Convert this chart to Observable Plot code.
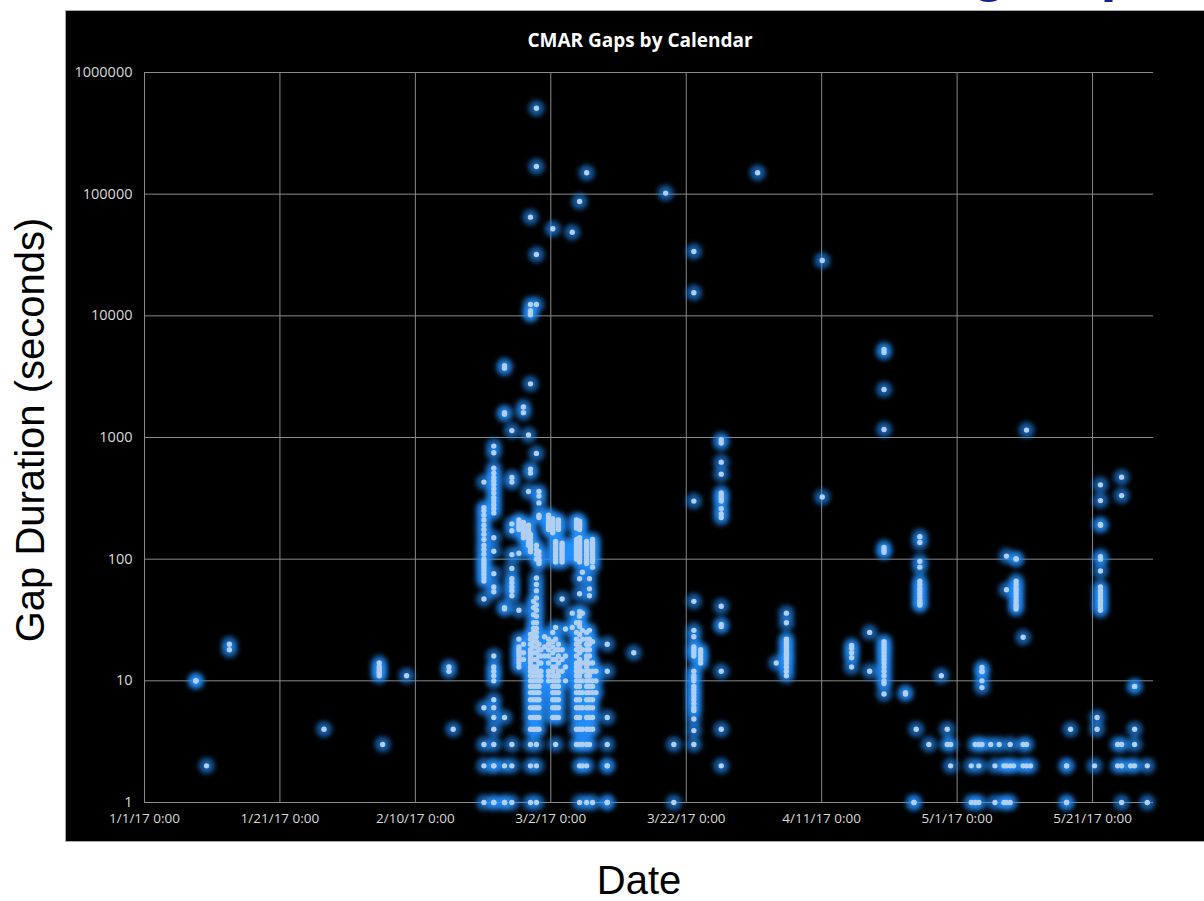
<!DOCTYPE html>
<html>
<head>
<meta charset="utf-8">
<script src="https://cdn.jsdelivr.net/npm/d3@7"></script>
<script src="https://cdn.jsdelivr.net/npm/@observablehq/plot@0.6"></script>
<style>
  html, body { margin: 0; padding: 0; background: #fff; width: 1204px; height: 901px; overflow: hidden; position: relative; }
  #slideTitle { position: absolute; left: 0; top: 0; width: 1204px; height: 5px; overflow: hidden; }
  #slideTitle span { position: absolute; left: 818px; top: -59px; font: bold 58px "Liberation Sans", Arial, sans-serif; line-height: 58px; color: #12208a; white-space: nowrap; }
  #panel { position: absolute; left: 65px; top: 10px; width: 1160px; height: 832px; background: #000; border: 1px solid #a8a8a8; box-sizing: border-box; }
  #chart { position: absolute; left: 65px; top: 10px; }
  #title { position: absolute; left: 65px; width: 1150px; top: 27px; text-align: center; color: #fff; font: bold 19px "Open Sans", sans-serif; }
  #ylabel { position: absolute; left: 30px; top: 430px; transform: translate(-50%, -50%) rotate(-90deg); font: 40px "Liberation Sans", Arial, sans-serif; color: #000; white-space: nowrap; }
  #xlabel { position: absolute; left: 639px; top: 880px; transform: translate(-50%, -50%); font: 40px "Liberation Sans", Arial, sans-serif; color: #000; white-space: nowrap; }
</style>
</head>
<body>
<div id="slideTitle"><span>Timing Gaps</span></div>
<div id="panel"></div>
<div id="chart"></div>
<div id="title">CMAR Gaps by Calendar</div>
<div id="ylabel">Gap Duration (seconds)</div>
<div id="xlabel">Date</div>
<script>
// ---- data ----
const xStart = "2017-01-01 00:00";
const xEnd = "2017-05-30 00:00";
const dateTicks = ["2017-01-01 00:00", "2017-01-21 00:00", "2017-02-10 00:00", "2017-03-02 00:00",
                   "2017-03-22 00:00", "2017-04-11 00:00", "2017-05-01 00:00", "2017-05-21 00:00"];
const gapTicks = [1, 10, 100, 1000, 10000, 100000, 1000000];

// time stamp of each vertical group of gaps
const columnTimes = [
  "2017-01-08 14:00", "2017-01-10 04:00", "2017-01-13 13:00", "2017-01-27 12:00", "2017-02-04 16:00",
  "2017-02-05 04:00", "2017-02-08 17:00", "2017-02-14 23:00", "2017-02-15 14:00", "2017-02-20 03:00",
  "2017-02-21 14:00", "2017-02-23 04:00", "2017-02-24 06:00", "2017-02-25 07:00", "2017-02-25 23:00",
  "2017-02-26 17:00", "2017-02-27 00:00", "2017-02-27 11:00", "2017-02-27 21:00", "2017-02-28 06:00",
  "2017-02-28 13:00", "2017-03-01 02:00", "2017-03-01 16:00", "2017-03-02 07:00", "2017-03-02 17:00",
  "2017-03-03 03:00", "2017-03-03 16:00", "2017-03-04 04:00", "2017-03-05 04:00", "2017-03-05 19:00",
  "2017-03-06 06:00", "2017-03-06 16:00", "2017-03-07 07:00", "2017-03-07 17:00", "2017-03-08 04:00",
  "2017-03-08 16:00", "2017-03-10 08:00", "2017-03-14 06:00", "2017-03-18 23:00", "2017-03-20 04:00",
  "2017-03-23 03:00", "2017-03-24 03:00", "2017-03-27 04:00", "2017-04-01 13:00", "2017-04-04 07:00",
  "2017-04-05 19:00", "2017-04-11 02:00", "2017-04-15 10:00", "2017-04-18 02:00", "2017-04-20 05:00",
  "2017-04-23 09:00", "2017-04-24 15:00", "2017-04-24 23:00", "2017-04-25 12:00", "2017-04-26 20:00",
  "2017-04-28 16:00", "2017-04-29 13:00", "2017-04-30 01:00", "2017-05-03 02:00", "2017-05-03 16:00",
  "2017-05-04 05:00", "2017-05-04 16:00", "2017-05-05 23:00", "2017-05-06 14:00", "2017-05-07 05:00",
  "2017-05-07 22:00", "2017-05-08 07:00", "2017-05-08 20:00", "2017-05-09 08:00", "2017-05-09 17:00",
  "2017-05-10 18:00", "2017-05-11 06:00", "2017-05-11 20:00", "2017-05-17 04:00", "2017-05-17 18:00",
  "2017-05-21 07:00", "2017-05-21 16:00", "2017-05-22 04:00", "2017-05-24 17:00", "2017-05-25 07:00",
  "2017-05-26 15:00", "2017-05-27 05:00", "2017-05-29 02:00"
];

// gap durations (seconds) observed at each time stamp above, same order
const columnGaps = [
  [10, 10, 10],
  [2],
  [20, 18],
  [4],
  [14, 13, 12.5, 12, 11.5, 11],
  [3],
  [11],
  [13, 12],
  [4],
  [430, 265, 250, 230, 210, 190, 175, 160, 145, 130, 120, 110, 100, 95, 90, 85, 80, 75, 70, 66, 47, 6, 3, 2, 1],
  [850, 750, 560, 510, 470, 440, 410, 380, 350, 320, 300, 280, 260, 240, 150, 116, 76, 59, 54, 16, 13, 12, 11, 10, 7, 6, 5, 4, 3, 2, 2, 1, 1],
  [3900, 3700, 1600, 1550, 40, 39, 5, 2, 1, 1],
  [1140, 470, 430, 195, 171, 109, 84, 69, 64, 59, 55, 50, 3, 2, 1],
  [210, 200, 190, 182, 175, 112, 38, 22, 19, 18, 17, 16, 15, 14, 13],
  [1780, 1600, 200, 190, 180, 172, 165, 157, 150, 20, 17, 15],
  [1050, 360, 190, 180, 170, 160, 150, 145, 140, 135, 130],
  [64700, 12400, 11000, 10500, 10200, 2760, 550, 510, 160, 150, 140, 132, 125, 120, 115, 24, 22, 20, 18, 17, 16, 15, 14, 13, 12, 11, 10, 9, 8, 7, 6, 5, 4, 3, 2, 1],
  [45, 40, 35, 30, 27, 25, 23, 21, 19, 17, 15, 13, 12, 11, 10, 9, 8, 7, 6, 5, 4],
  [508000, 168600, 31900, 12400, 740, 130, 120, 110, 100, 70, 62, 55, 48, 42, 38, 34, 30, 27, 25, 23, 21, 19, 17, 15, 13, 12, 11, 10, 9, 8, 7, 6, 5, 4, 3, 2, 1],
  [360, 330, 290, 230, 220, 115, 107, 100, 96, 92, 20, 18, 16, 14, 12, 11, 10, 9, 8, 7, 6, 5, 4],
  [18, 16, 14, 12, 11, 10],
  [23, 19, 16],
  [230, 220, 210, 200, 190, 182, 175, 22, 20, 18, 16, 14, 12, 11, 10],
  [51900, 215, 207, 200, 192, 185, 177, 170, 165, 25, 21, 19, 17, 15, 13, 12, 11, 10, 9, 8, 7, 6, 5],
  [140, 135, 130, 125, 120, 115, 110, 105, 100, 95, 27.5, 22, 18, 15, 13, 11, 10, 9, 8, 7, 6, 5, 3],
  [210, 200, 190, 182, 175, 20, 18, 16, 14, 12, 11, 10, 9, 8, 7, 6, 5],
  [135, 130, 125, 120, 115, 110, 105, 100, 95, 47, 18, 15, 12],
  [26.7, 16, 13, 10],
  [48700, 36, 27.5],
  [210, 202, 195, 187, 180, 145, 137, 130, 125, 120, 115, 110, 105, 100, 30, 25, 22, 20, 18, 16, 14, 13, 12, 11, 10, 9, 8, 7, 6, 5, 4, 3],
  [87000, 205, 197, 190, 182, 175, 150, 142, 135, 130, 125, 120, 115, 110, 105, 100, 95, 69, 52, 37, 34, 30, 28, 24, 21, 19, 17, 15, 14, 13, 12, 11, 10, 9, 8, 7, 6, 5, 4, 3, 2, 1],
  [78, 36, 26, 22, 18, 14, 12, 10, 8, 6, 4, 3, 2],
  [150000, 140, 135, 130, 125, 120, 115, 110, 105, 100, 96, 92, 25, 22, 20, 18, 16, 15, 14, 13, 12, 11, 10, 9, 8, 7, 6, 5, 4, 3, 2, 1],
  [69, 57, 50, 26, 22, 20, 18, 16, 14, 12, 11, 10, 9, 8, 7, 6, 5, 4, 3],
  [86, 145, 137, 130, 124, 118, 111, 105, 100, 95, 21, 14, 12, 10, 9, 8, 7, 6, 5, 4, 1],
  [12, 10, 8],
  [20, 12, 5, 3, 2, 2, 1, 1],
  [17],
  [102000],
  [3, 1],
  [33800, 15500, 300, 45, 26, 23, 19, 18, 17, 16, 12, 11, 10.5, 10, 9, 8.5, 8, 7.5, 7, 6.5, 6, 5.7, 4.85, 3.9, 3],
  [18, 17, 16, 15, 14],
  [960, 900, 627, 500, 350, 333, 315, 300, 260, 235, 220, 41, 29, 28, 12, 4, 2],
  [150000],
  [14],
  [36, 30, 22, 21, 20, 19, 18, 17, 16.5, 16, 15.5, 15, 14, 13, 12, 11],
  [28500, 324],
  [19.5, 18.5, 17, 15.5, 13],
  [25, 12],
  [5300, 5000, 2480, 1165, 125, 119, 114, 21, 20, 19, 18, 17, 16, 15, 14, 13, 12, 11, 10, 9.5, 7.8],
  [8, 7.8],
  [1, 1],
  [4],
  [153, 137, 96, 86, 66, 62, 58, 55, 52, 49, 46, 44, 43, 42],
  [3],
  [11],
  [4, 3],
  [3, 2],
  [2, 1],
  [3, 1],
  [3, 2, 1],
  [12.9, 11.9, 12, 10, 8.8, 3],
  [3],
  [2, 1],
  [3],
  [1, 2],
  [106, 56, 2, 1],
  [3, 2, 1],
  [2],
  [101, 100, 66, 62, 58, 55, 52, 49, 46, 43, 41, 39],
  [22.8, 3, 2],
  [1150, 3, 2],
  [2],
  [2, 2, 1, 1],
  [4],
  [2],
  [5, 4],
  [408, 303, 193, 190, 105, 100, 80, 59, 55, 52, 49, 46, 44, 42, 40, 38],
  [3, 2],
  [472, 333, 3, 2, 1],
  [2],
  [9, 9, 4, 3, 2],
  [2, 1]
];

// ---- chart ----
const parse = d3.utcParse("%Y-%m-%d %H:%M");
const points = columnTimes.flatMap((t, i) => columnGaps[i].map(g => ({time: parse(t), gap: g})));
const tickDates = dateTicks.map(parse);

const chart = Plot.plot({
  width: 1139,
  height: 832,
  marginLeft: 79,
  marginRight: 51,
  marginTop: 62,
  marginBottom: 40,
  style: {background: "transparent", color: "#d9d9d9", fontFamily: "'Open Sans', sans-serif", fontSize: "13.5px", overflow: "visible"},
  x: {type: "utc", domain: [parse(xStart), parse(xEnd)]},
  y: {type: "log", domain: [1, 1000000]},
  marks: [
    Plot.gridX(tickDates, {stroke: "#8a8a8a", strokeOpacity: 1}),
    Plot.gridY(gapTicks, {stroke: "#8a8a8a", strokeOpacity: 1}),
    Plot.axisX(tickDates, {tickSize: 0, tickPadding: 11, tickFormat: d3.utcFormat("%-m/%-d/%y %-H:%M"), label: null, fontSize: 13.5}),
    Plot.axisY(gapTicks, {tickSize: 0, tickPadding: 12, tickFormat: d => String(d), label: null, fontSize: 14.5}),
    Plot.dot(points, {x: "time", y: "gap", r: 8, fill: "#2390ff", fillOpacity: 0.62, stroke: "none"}),
    Plot.dot(points, {x: "time", y: "gap", r: 2.7, fill: "#b0cff2", stroke: "none"})
  ]
});
document.getElementById("chart").appendChild(chart);
const glow = chart.querySelector('g[aria-label="dot"]');
if (glow) glow.style.filter = "blur(2.5px)";
</script>
</body>
</html>
